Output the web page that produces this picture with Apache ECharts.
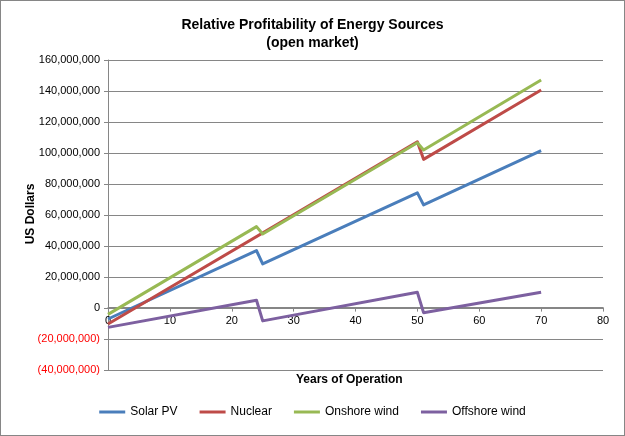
<!DOCTYPE html>
<html>
    <head>
        <meta charset="utf-8">
        <title>Relative Profitability of Energy Sources</title>
        <script src="https://cdn.jsdelivr.net/npm/echarts@6/dist/echarts.min.js"></script>
        <style>
            html, body { margin: 0; padding: 0; background: #fff; }
            #chart1 { width: 625px; height: 436px; box-sizing: border-box; border: 1px solid #868686; }
        </style>
    </head>
    <body>
        <div id="chart1"></div>
    </body>
    <script type="text/javascript">
        // values, in millions of US dollars
        var M = 1000000;
        var solarYears    = [0, 24, 25, 50, 51, 70];
        var solarValues   = [-7.1, 37.0, 28.5, 74.3, 66.5, 101.5];
        var nuclearYears  = [0, 50, 51, 70];
        var nuclearValues = [-10.3, 107.2, 95.9, 140.6];
        var onshoreYears  = [0, 24, 25, 50, 51, 70];
        var onshoreValues = [-4.1, 52.5, 47.7, 106.6, 101.9, 147.1];
        var offshoreYears = [0, 24, 25, 50, 51, 70];
        var offshoreValues = [-12.5, 5.0, -8.3, 10.1, -3.0, 10.1];

        var seriesNames  = ['Solar PV', 'Nuclear', 'Onshore wind', 'Offshore wind'];
        var seriesColors = ['#4A7EBB', '#BE4B48', '#98B954', '#7D60A0'];

        var yMin = -40, yMax = 160;   // millions
        var gridTop = 59, gridBottom = 65, chartH = 436;

        function pairs(xs, ys) {
            return xs.map(function (x, i) { return [x, ys[i] * M]; });
        }

        function fmt(v) {
            var s = Math.abs(v).toString().replace(/\B(?=(\d{3})+(?!\d))/g, ',');
            return v < 0 ? '(' + s + ')' : s;
        }

        var allData = [
            pairs(solarYears, solarValues),
            pairs(nuclearYears, nuclearValues),
            pairs(onshoreYears, onshoreValues),
            pairs(offshoreYears, offshoreValues)
        ];

        // move the x axis up to the zero line (labels follow it)
        var plotH = chartH - gridTop - gridBottom;
        var zeroOffset = -plotH * (0 - yMin) / (yMax - yMin);

        var font = 'Liberation Sans';
        var myChart1 = echarts.init(document.getElementById('chart1'));

        myChart1.setOption({
            animation: false,
            textStyle: { fontFamily: font },
            title: {
                text: 'Relative Profitability of Energy Sources\n(open market)',
                left: 'center',
                top: 10,
                textStyle: { fontFamily: font, fontSize: 14, fontWeight: 'bold', color: '#000', lineHeight: 18 }
            },
            grid: { left: 107, right: 21, top: gridTop, bottom: gridBottom },
            legend: {
                bottom: 12,
                left: 'center',
                icon: 'rect',
                itemWidth: 26,
                itemHeight: 3,
                itemGap: 22,
                data: seriesNames,
                textStyle: { fontFamily: font, fontSize: 12, color: '#000' }
            },
            graphic: [{
                type: 'text',
                left: 295,
                top: 373,
                style: { text: 'Years of Operation', font: 'bold 12px "Liberation Sans"', fill: '#000' }
            }, {
                type: 'text',
                x: 30,
                y: 213,
                rotation: Math.PI / 2,
                style: {
                    text: 'US Dollars',
                    font: 'bold 12px "Liberation Sans"',
                    fill: '#000',
                    align: 'center',
                    verticalAlign: 'middle'
                }
            }],
            xAxis: {
                type: 'value',
                min: 0,
                max: 80,
                interval: 10,
                offset: zeroOffset,
                axisLine: { onZero: false, lineStyle: { color: '#868686' } },
                axisTick: { show: true, length: 4, lineStyle: { color: '#868686' } },
                axisLabel: { fontSize: 11, color: '#000', margin: 8 },
                splitLine: { show: false }
            },
            yAxis: {
                type: 'value',
                min: yMin * M,
                max: yMax * M,
                interval: 20 * M,
                axisLine: { show: true, lineStyle: { color: '#868686' } },
                axisTick: { show: true, length: 4, lineStyle: { color: '#868686' } },
                axisLabel: {
                    fontSize: 11,
                    margin: 8,
                    formatter: fmt,
                    color: function (v) { return v < 0 ? '#FF0000' : '#000'; }
                },
                splitLine: { lineStyle: { color: '#868686', width: 1 } }
            },
            series: seriesNames.map(function (name, i) {
                return {
                    name: name,
                    type: 'line',
                    data: allData[i],
                    symbol: 'none',
                    smooth: false,
                    itemStyle: { color: seriesColors[i] },
                    lineStyle: { color: seriesColors[i], width: 3, join: 'round' }
                };
            })
        });
    </script>
</html>
